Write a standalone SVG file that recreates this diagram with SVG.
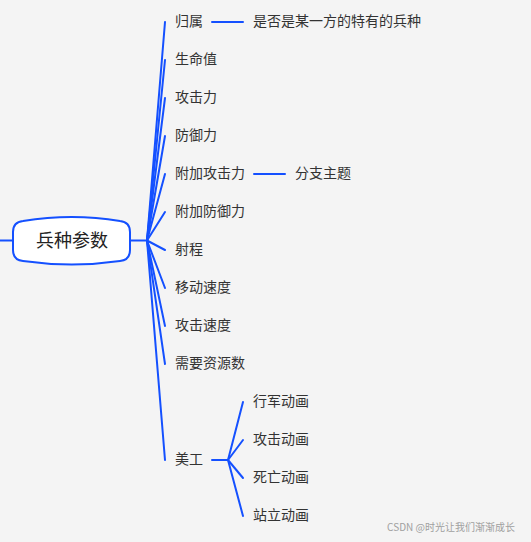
<svg xmlns="http://www.w3.org/2000/svg" width="531" height="542" viewBox="0 0 531 542">
<style>
.bg{fill:#f4f4f4}
.ln{stroke:#1450ff;stroke-width:2;fill:none;stroke-linecap:round}
.t{font-family:"Noto Sans CJK SC","Noto Sans",sans-serif;font-size:14px;fill:#333}
.root{fill:#ffffff;stroke:#1450ff;stroke-width:2}
.rt{font-family:"Noto Sans CJK SC","Noto Sans",sans-serif;font-size:18px;fill:#222}
.wm{font-family:"Noto Sans CJK SC","Noto Sans",sans-serif;font-size:10px;fill:#a0a0a0}
</style>
<rect class="bg" x="0" y="0" width="531" height="542"/>
<g id="connectors">
<path class="ln" d="M0,240.5 H13"/>
<path class="ln" d="M130,240.5 H147"/>
<path class="ln" d="M147,240.5 L165,22"/>
<path class="ln" d="M147,240.5 L165,60"/>
<path class="ln" d="M147,240.5 L165,98"/>
<path class="ln" d="M147,240.5 L165,136"/>
<path class="ln" d="M147,240.5 L165,174"/>
<path class="ln" d="M147,240.5 L165,212"/>
<path class="ln" d="M147,240.5 L165,250"/>
<path class="ln" d="M147,240.5 L165,288"/>
<path class="ln" d="M147,240.5 L165,326"/>
<path class="ln" d="M147,240.5 L165,364"/>
<path class="ln" d="M147,240.5 L165,460"/>
<path class="ln" d="M212,22 H243"/>
<path class="ln" d="M254,174 H285"/>
<path class="ln" d="M212,460 H228"/>
<path class="ln" d="M228,460 L243,402"/>
<path class="ln" d="M228,460 L243,440"/>
<path class="ln" d="M228,460 L243,478"/>
<path class="ln" d="M228,460 L243,516"/>
</g>
<g id="root">
<path class="root" d="M13,232 Q13,222 23,221 Q72,213 120,221 Q130,222 130,232 L130,250 Q130,260 120,261 Q72,268 23,261 Q13,260 13,250 Z"/>
<text class="rt" x="72" y="247" text-anchor="middle">兵种参数</text>
</g>
<g id="n1"><text class="t" x="175" y="26">归属</text></g>
<g id="n1a"><text class="t" x="253" y="26">是否是某一方的特有的兵种</text></g>
<g id="n2"><text class="t" x="175" y="64">生命值</text></g>
<g id="n3"><text class="t" x="175" y="102">攻击力</text></g>
<g id="n4"><text class="t" x="175" y="140">防御力</text></g>
<g id="n5"><text class="t" x="175" y="178">附加攻击力</text></g>
<g id="n5a"><text class="t" x="295" y="178">分支主题</text></g>
<g id="n6"><text class="t" x="175" y="216">附加防御力</text></g>
<g id="n7"><text class="t" x="175" y="254">射程</text></g>
<g id="n8"><text class="t" x="175" y="292">移动速度</text></g>
<g id="n9"><text class="t" x="175" y="330">攻击速度</text></g>
<g id="n10"><text class="t" x="175" y="368">需要资源数</text></g>
<g id="n11"><text class="t" x="175" y="464">美工</text></g>
<g id="n11a"><text class="t" x="253" y="406">行军动画</text></g>
<g id="n11b"><text class="t" x="253" y="444">攻击动画</text></g>
<g id="n11c"><text class="t" x="253" y="482">死亡动画</text></g>
<g id="n11d"><text class="t" x="253" y="520">站立动画</text></g>
<text class="wm" x="515" y="531" text-anchor="end">CSDN @时光让我们渐渐成长</text>
</svg>
